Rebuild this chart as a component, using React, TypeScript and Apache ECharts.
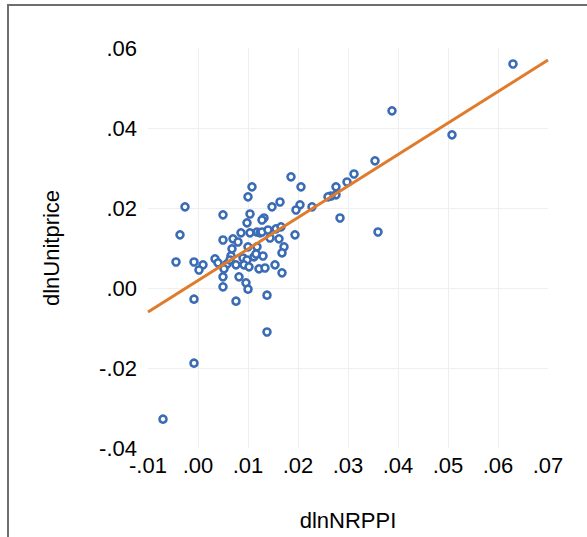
import React, { useEffect, useRef } from "react";
import * as echarts from "echarts";

// dlnNRPPI (x) and dlnUnitprice (y) observations
const xValues = [
  0.063, 0.0388, 0.0508, 0.0354, 0.0312, 0.0298, 0.0276, 0.0276, 0.0266, 0.026,
  0.0284, 0.036, 0.0186, 0.0206, 0.0108, 0.01, 0.0164, 0.0148, 0.0204, 0.0196,
  0.0228, -0.0026, 0.005, 0.0104, 0.0132, 0.0128, 0.0098, -0.0036, 0.005, 0.007,
  0.008, 0.0086, 0.0104, 0.0118, 0.0124, 0.0128, 0.014, 0.0156, 0.0166, 0.0144,
  0.0162, 0.0194, 0.01, 0.0118, 0.0172, 0.0168, 0.0068, 0.0066, 0.009, 0.0098,
  0.0112, 0.0116, 0.013, 0.0034, 0.004, 0.0058, 0.0064, 0.0076, 0.0092, 0.0102,
  -0.0044, -0.0008, 0.001, 0.0002, 0.0122, 0.0134, 0.0154, 0.0168, 0.0052, 0.005,
  0.0082, 0.005, 0.0096, 0.01, -0.0008, 0.0076, 0.0138, 0.0138, -0.0008, -0.007,
];
const yValues = [
  0.056, 0.0443, 0.0383, 0.0318, 0.0285, 0.0265, 0.0253, 0.0233, 0.023, 0.0228,
  0.0175, 0.014, 0.0278, 0.0253, 0.0253, 0.0228, 0.0215, 0.0203, 0.0208, 0.0195,
  0.0203, 0.0203, 0.0183, 0.0185, 0.0175, 0.017, 0.0163, 0.0133, 0.012, 0.0123,
  0.0115, 0.0138, 0.0138, 0.014, 0.0138, 0.014, 0.0145, 0.0148, 0.0153, 0.0125,
  0.0123, 0.0133, 0.0103, 0.0103, 0.0103, 0.0088, 0.0098, 0.008, 0.0075, 0.007,
  0.0078, 0.0085, 0.008, 0.0073, 0.0063, 0.006, 0.007, 0.0058, 0.0058, 0.0053,
  0.0065, 0.0065, 0.0058, 0.0045, 0.0048, 0.005, 0.0058, 0.0038, 0.0048, 0.0028,
  0.0028, 0.0003, 0.0013, -0.0003, -0.0028, -0.0033, -0.0018, -0.011, -0.0188, -0.0328,
];

// fitted line end points
const fitX = [-0.01, 0.07];
const fitY = [-0.006, 0.057];

const xTickLabels = ["-.01", ".00", ".01", ".02", ".03", ".04", ".05", ".06", ".07"];
const yTickLabels = ["-.04", "-.02", ".00", ".02", ".04", ".06"];

const xName = "dlnNRPPI";
const yName = "dlnUnitprice";

const FONT = "'Liberation Sans', Arial, Helvetica, sans-serif";

export default function App() {
  const ref = useRef<HTMLDivElement>(null);
  useEffect(() => {
    if (!ref.current) return;
    const chart = echarts.init(ref.current, null, { renderer: "svg" });
    const points = xValues.map((x, i) => [x, yValues[i]]);
    const line = fitX.map((x, i) => [x, fitY[i]]);
    chart.setOption({
      animation: false,
      backgroundColor: "#fff",
      textStyle: { fontFamily: FONT },
      grid: { left: 148, top: 48, width: 400, height: 400, containLabel: false },
      graphic: [
        {
          type: "rect",
          shape: { x: 8, y: 5, width: 700, height: 700 },
          style: { fill: "none", stroke: "#6e6e6e", lineWidth: 2 },
          silent: true,
          z: 100,
        },
      ],
      xAxis: {
        type: "value",
        min: -0.01,
        max: 0.07,
        interval: 0.01,
        name: xName,
        nameLocation: "middle",
        nameGap: 61,
        nameTextStyle: { fontSize: 22, color: "#000", fontFamily: FONT },
        axisLine: { show: false },
        axisTick: { show: false },
        axisLabel: {
          fontSize: 22,
          color: "#000",
          fontFamily: FONT,
          margin: 6,
          formatter: (_v: number, i: number) => xTickLabels[i] ?? "",
        },
        splitLine: {
          show: true,
          showMinLine: false,
          showMaxLine: false,
          lineStyle: { color: "#efefef", width: 1 },
        },
      },
      yAxis: {
        type: "value",
        min: -0.04,
        max: 0.06,
        interval: 0.02,
        name: yName,
        nameLocation: "middle",
        nameGap: 86,
        nameRotate: 90,
        nameTextStyle: { fontSize: 22, color: "#000", fontFamily: FONT },
        axisLine: { show: false },
        axisTick: { show: false },
        axisLabel: {
          fontSize: 22,
          color: "#000",
          fontFamily: FONT,
          margin: 11,
          padding: [0, 0, 8, 0],
          formatter: (_v: number, i: number) => yTickLabels[i] ?? "",
        },
        splitLine: {
          show: true,
          showMinLine: false,
          showMaxLine: false,
          lineStyle: { color: "#efefef", width: 1 },
        },
      },
      series: [
        {
          type: "scatter",
          data: points,
          symbol: "circle",
          symbolSize: 7,
          itemStyle: { color: "#ffffff", borderColor: "#3a6cb5", borderWidth: 2.6, opacity: 1 },
        },
        {
          type: "line",
          data: line,
          symbol: "none",
          lineStyle: { color: "#e07b2c", width: 3 },
        },
      ],
    });
    return () => chart.dispose();
  }, []);
  return (
    <div
      ref={ref}
      style={{ position: "absolute", left: 0, top: 0, width: 587, height: 537 }}
    />
  );
}
